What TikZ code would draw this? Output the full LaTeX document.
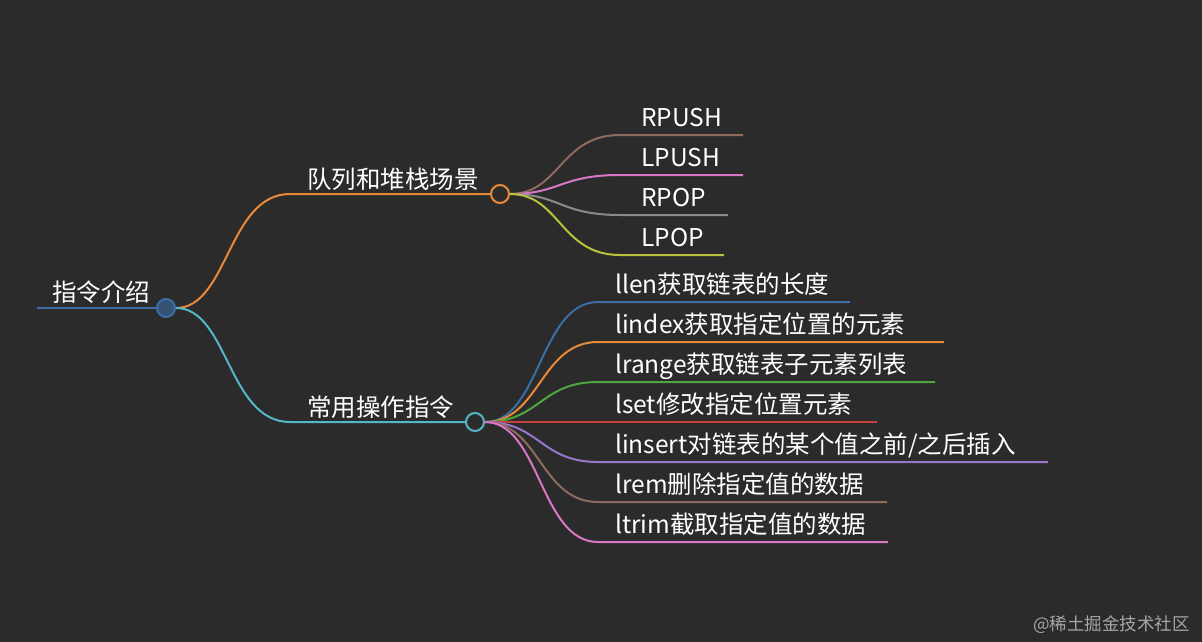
\documentclass[tikz,border=0pt]{standalone}
\usepackage{fontspec}
\setmainfont{Noto Sans CJK SC}
\begin{document}
\begin{tikzpicture}[x=1pt,y=-1pt,
  lbl/.style={text=white,font=\fontsize{24.5}{28}\selectfont,anchor=base west,inner sep=0},
  br/.style={line width=2pt},
  dot/.style={circle,draw,line width=2pt,minimum size=18pt,inner sep=0}]
\definecolor{bg}{HTML}{2B2B2B}
\definecolor{cb}{HTML}{3C6DA6}\definecolor{co}{HTML}{E8893A}\definecolor{cc}{HTML}{56B6C9}
\definecolor{cbr}{HTML}{8E6B5E}\definecolor{cpk}{HTML}{D977C6}\definecolor{cgy}{HTML}{8A8A8A}
\definecolor{cyg}{HTML}{B8C23A}\definecolor{cgr}{HTML}{4FA63E}\definecolor{crd}{HTML}{C8413A}
\definecolor{cpu}{HTML}{9876CC}
\fill[bg] (0,0) rectangle (1202,642);
\useasboundingbox (0,0) rectangle (1202,642);
% root
\coordinate (r0) at (37,308);
\node[dot,draw=cb,fill=cb!60!bg] (r) at (166,308) {};
\draw[br,cb] (r0) -- (r.west);
\node[lbl] (rt) at (52,301) {指令介绍};
% branch 1
\coordinate (b1e) at (290,194);
\draw[br,co] (r) .. controls (228,308) and (228,194) .. (b1e) -- (491,194);
\node[dot,draw=co,fill=bg] (b1) at (500,194) {};
\node[lbl] (b1t) at (307,188) {队列和堆栈场景};
\foreach \y/\e/\c/\t [count=\i] in {135/743/cbr/RPUSH,175/743/cpk/LPUSH,215/728/cgy/RPOP,255/724/cyg/LPOP}{
  \coordinate (p\i) at (620,\y);
  \coordinate (q\i) at (\e,\y);
  \draw[br,\c] (b1.east) .. controls (560,194) and (560,\y) .. (p\i) -- (q\i);
  \node[lbl] (pt\i) at (641,\y-9) {\t};
}
% branch 2
\coordinate (b2e) at (290,422);
\draw[br,cc] (r) .. controls (228,308) and (228,422) .. (b2e) -- (466,422);
\node[dot,draw=cc,fill=bg] (b2) at (475,422) {};
\node[lbl] (b2t) at (307,416) {常用操作指令};
\foreach \y/\e/\c/\t [count=\i] in {302/850/cb/llen获取链表的长度,342/944/co/lindex获取指定位置的元素,382/935/cgr/lrange获取链表子元素列表,422/877/crd/lset修改指定位置元素,462/1048/cpu/{linsert对链表的某个值之前/之后插入},502/887/cbr/lrem删除指定值的数据,542/888/cpk/ltrim截取指定值的数据}{
  \coordinate (s\i) at (598,\y);
  \coordinate (u\i) at (\e,\y);
  \draw[br,\c] (b2.east) .. controls (540,422) and (540,\y) .. (s\i) -- (u\i);
  \node[lbl] (st\i) at (615,\y-9) {\t};
}
\node[text=gray!70,font=\fontsize{17.5}{20}\selectfont,anchor=base east,inner sep=0] (wm) at (1190,630) {@稀土掘金技术社区};
\end{tikzpicture}
\end{document}
